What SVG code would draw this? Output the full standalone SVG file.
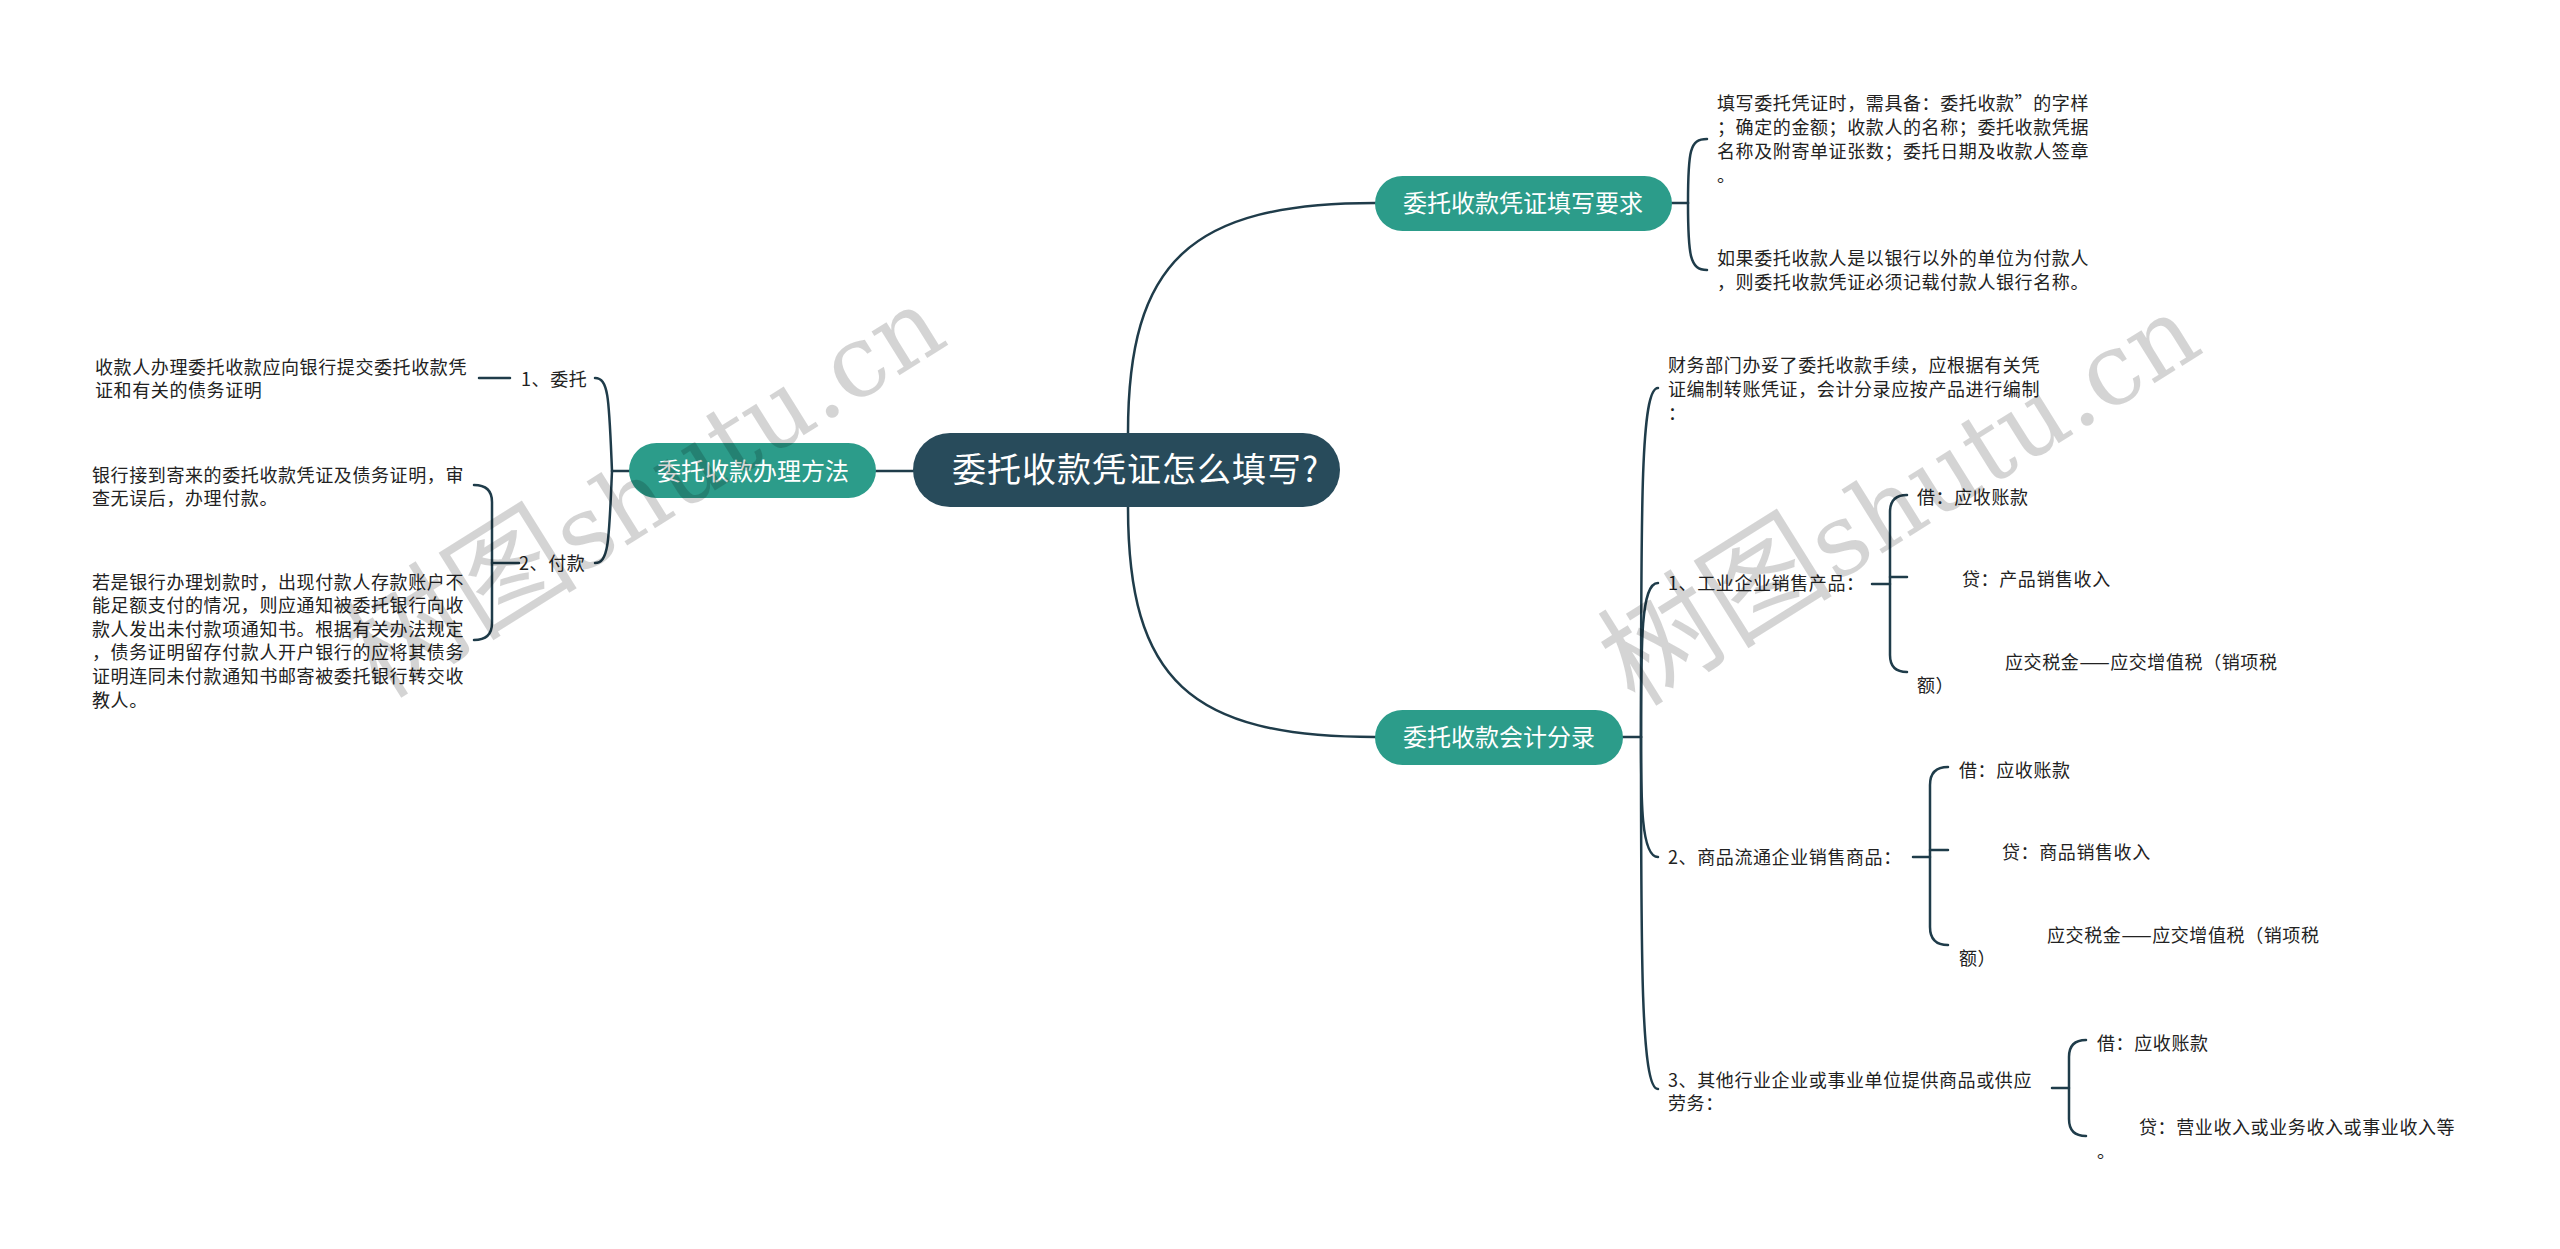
<svg xmlns="http://www.w3.org/2000/svg" width="2560" height="1249" viewBox="0 0 2560 1249">
<style>
.bg{fill:#ffffff}
.ln{fill:none;stroke:#1f3c4a;stroke-width:2.5;stroke-linecap:round}
.t{font-family:"Noto Sans CJK SC","Liberation Sans",sans-serif;font-size:18px;letter-spacing:0.6px;fill:#222222}
.nt{font-family:"Noto Sans CJK SC","Liberation Sans",sans-serif;font-size:24px;fill:#ffffff}
.ct{font-family:"Noto Sans CJK SC","Liberation Sans",sans-serif;font-size:34px;letter-spacing:1px;fill:#ffffff}
.n2{fill:#2c9c8a}
.n1{fill:#284b5b}
.wm{font-family:"DejaVu Serif","Noto Sans CJK SC",serif;font-size:100px;fill:#000000;fill-opacity:0.17}
.wmc{font-family:"Noto Sans CJK SC",sans-serif;font-size:118px}
</style>
<rect class="bg" x="0" y="0" width="2560" height="1249"/>
<g id="connectors">
  <path class="ln" d="M913,471 L876,471"/>
  <path class="ln" d="M1128,433 C1128,262 1190,203 1375,203"/>
  <path class="ln" d="M1128,507 C1128,680 1190,737 1375,737"/>
  <path class="ln" d="M629,471 L612,471"/>
  <path class="ln" d="M612,471 C609,400 609,378 595,378"/>
  <path class="ln" d="M612,471 C609,540 609,563 595,563"/>
  <path class="ln" d="M510,378 L479,378"/>
  <path class="ln" d="M519,563 L492,563"/>
  <path class="ln" d="M474,485 Q492,485 492,502 L492,623 Q492,640 474,640"/>
  <path class="ln" d="M1672,203 L1688,203"/>
  <path class="ln" d="M1688,203 C1688,150 1690,139 1707,139"/>
  <path class="ln" d="M1688,203 C1688,256 1690,270 1707,270"/>
  <path class="ln" d="M1623,737 L1641,737"/>
  <path class="ln" d="M1641,737 C1641,500 1641,388 1658,388"/>
  <path class="ln" d="M1641,737 C1641,640 1641,583 1658,583"/>
  <path class="ln" d="M1641,737 C1641,800 1641,857 1658,857"/>
  <path class="ln" d="M1641,737 C1641,960 1641,1089 1658,1089"/>
  <path class="ln" d="M1872,584 L1890,584"/>
  <path class="ln" d="M1907,495 Q1890,495 1890,512 L1890,655 Q1890,672 1907,672"/>
  <path class="ln" d="M1890,577 L1907,577"/>
  <path class="ln" d="M1913,857 L1930,857"/>
  <path class="ln" d="M1948,767 Q1930,767 1930,785 L1930,927 Q1930,945 1948,945"/>
  <path class="ln" d="M1930,850 L1948,850"/>
  <path class="ln" d="M2052,1088 L2069,1088"/>
  <path class="ln" d="M2086,1040 Q2069,1040 2069,1057 L2069,1119 Q2069,1136 2086,1136"/>
</g>
<g id="root">
  <rect class="n1" x="913" y="433" width="427" height="74" rx="37"/>
  <text class="ct" x="952" y="482">委托收款凭证怎么填写?</text>
</g>
<g id="n-method">
  <rect class="n2" x="629" y="443" width="247" height="55" rx="27.5"/>
  <text class="nt" x="657" y="480">委托收款办理方法</text>
</g>
<g id="n-req">
  <rect class="n2" x="1375" y="176" width="297" height="55" rx="27.5"/>
  <text class="nt" x="1403" y="212">委托收款凭证填写要求</text>
</g>
<g id="n-acc">
  <rect class="n2" x="1375" y="710" width="248" height="55" rx="27.5"/>
  <text class="nt" x="1403" y="746">委托收款会计分录</text>
</g>
<g id="m1">
  <text class="t" x="521" y="386">1、委托</text>
</g>
<g id="m1a">
  <text class="t" x="95" y="374">收款人办理委托收款应向银行提交委托收款凭</text>
  <text class="t" x="95" y="397">证和有关的债务证明</text>
</g>
<g id="m2">
  <text class="t" x="519" y="570">2、付款</text>
</g>
<g id="m2a">
  <text class="t" x="92" y="482">银行接到寄来的委托收款凭证及债务证明，审</text>
  <text class="t" x="92" y="505">查无误后，办理付款。</text>
</g>
<g id="m2b">
  <text class="t" x="92" y="589">若是银行办理划款时，出现付款人存款账户不</text>
  <text class="t" x="92" y="612">能足额支付的情况，则应通知被委托银行向收</text>
  <text class="t" x="92" y="636">款人发出未付款项通知书。根据有关办法规定</text>
  <text class="t" x="92" y="659">，债务证明留存付款人开户银行的应将其债务</text>
  <text class="t" x="92" y="683">证明连同未付款通知书邮寄被委托银行转交收</text>
  <text class="t" x="92" y="707">教人。</text>
</g>
<g id="r1a">
  <text class="t" x="1717" y="110">填写委托凭证时，需具备：委托收款”的字样</text>
  <text class="t" x="1717" y="134">；确定的金额；收款人的名称；委托收款凭据</text>
  <text class="t" x="1717" y="158">名称及附寄单证张数；委托日期及收款人签章</text>
  <text class="t" x="1717" y="182">。</text>
</g>
<g id="r1b">
  <text class="t" x="1717" y="265">如果委托收款人是以银行以外的单位为付款人</text>
  <text class="t" x="1717" y="289">，则委托收款凭证必须记载付款人银行名称。</text>
</g>
<g id="a0">
  <text class="t" x="1668" y="372">财务部门办妥了委托收款手续，应根据有关凭</text>
  <text class="t" x="1668" y="396">证编制转账凭证，会计分录应按产品进行编制</text>
  <text class="t" x="1668" y="420">：</text>
</g>
<g id="a1">
  <text class="t" x="1668" y="590">1、工业企业销售产品：</text>
</g>
<g id="a1-1"><text class="t" x="1917" y="504">借：应收账款</text></g>
<g id="a1-2"><text class="t" x="1962" y="586">贷：产品销售收入</text></g>
<g id="a1-3">
  <text class="t" x="2005" y="669">应交税金——应交增值税（销项税</text>
  <text class="t" x="1917" y="692">额）</text>
</g>
<g id="a2">
  <text class="t" x="1668" y="864">2、商品流通企业销售商品：</text>
</g>
<g id="a2-1"><text class="t" x="1959" y="777">借：应收账款</text></g>
<g id="a2-2"><text class="t" x="2002" y="859">贷：商品销售收入</text></g>
<g id="a2-3">
  <text class="t" x="2047" y="942">应交税金——应交增值税（销项税</text>
  <text class="t" x="1959" y="965">额）</text>
</g>
<g id="a3">
  <text class="t" x="1668" y="1087">3、其他行业企业或事业单位提供商品或供应</text>
  <text class="t" x="1668" y="1110">劳务：</text>
</g>
<g id="a3-1"><text class="t" x="2097" y="1050">借：应收账款</text></g>
<g id="a3-2">
  <text class="t" x="2139" y="1134">贷：营业收入或业务收入或事业收入等</text>
  <text class="t" x="2097" y="1158">。</text>
</g>
<g id="watermarks">
  <text class="wm" x="380" y="700" transform="rotate(-32 380 700)"><tspan class="wmc">树图</tspan>shutu.cn</text>
  <text class="wm" x="1635" y="708" transform="rotate(-32 1635 708)"><tspan class="wmc">树图</tspan>shutu.cn</text>
</g>
</svg>
